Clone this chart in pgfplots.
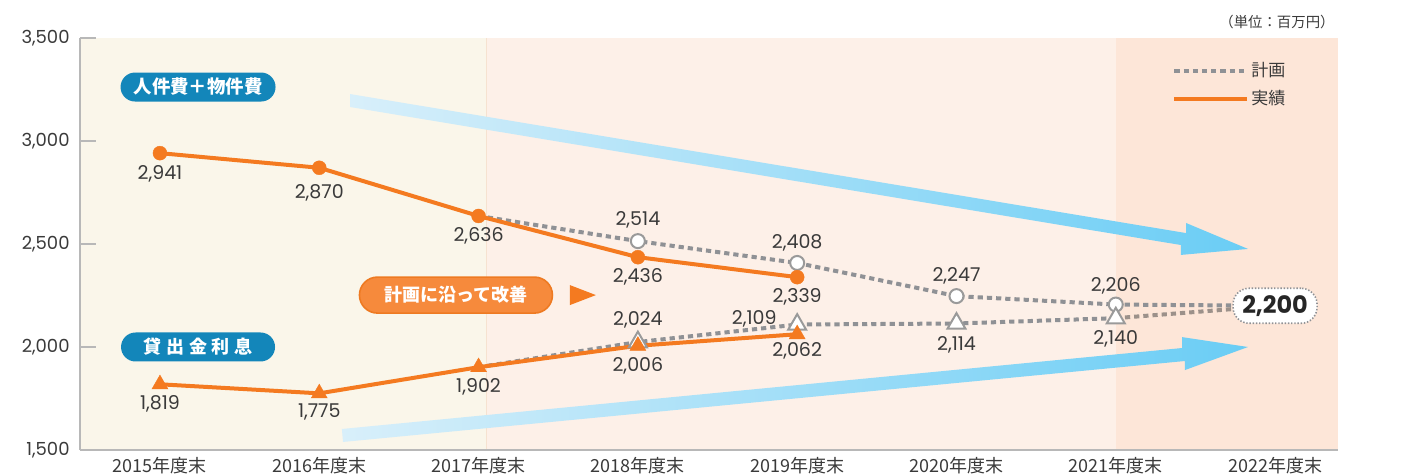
\documentclass[border=0pt]{standalone}
\usepackage{pgfplots}
\pgfplotsset{compat=1.18}
\usepackage{pgfplotstable}
\usepackage{fontspec}
\setmainfont{Poppins}
\newfontfamily\cjk{Noto Sans CJK JP}
\definecolor{org}{HTML}{F47A20}
\definecolor{plangray}{HTML}{8F9195}
\definecolor{brgray}{HTML}{9C918A}
\definecolor{mkgray}{HTML}{9A9A9A}
\definecolor{axisgray}{HTML}{B8B8B8}
\definecolor{txt}{HTML}{3A3A3A}
\definecolor{bgA}{HTML}{FAF6EA}
\definecolor{bgB}{HTML}{FDF0E8}
\definecolor{bgC}{HTML}{FDE6D8}
\definecolor{bgline}{HTML}{F6E2D0}
\definecolor{pillblue}{HTML}{1386BA}
\definecolor{pillorg}{HTML}{F68A3C}
\definecolor{pillorgd}{HTML}{EE7A22}
\definecolor{arrL}{HTML}{D8EFFA}
\definecolor{arrR}{HTML}{6ACDF5}

\pgfplotstableread{
x y dx dy
0 2941 0 -10.5
1 2870 0 -12.5
2 2636 0 -10
3 2436 0 -10
4 2339 0 -10
}\actcost
\pgfplotstableread{
x y dx dy
3 2514 0 10.5
4 2408 0 10
5 2247 0 10
6 2206 0 9.5
}\plancost
\pgfplotstableread{
x y dx dy
0 1819 0 -10
1 1775 0 -9.5
2 1902 0 -10
3 2006 0 -10
4 2062 0 -8.5
}\actint
\pgfplotstableread{
x y dx dy
3 2024 0 11
4 2109 -21.5 3
5 2114 0 -10.5
6 2140 0 -10.5
}\planint

\pgfplotsset{
  planline/.style={draw=plangray, line width=2pt, dash pattern=on 2.6pt off 2pt},
  lbl/.style={nodes near coords, point meta=\thisrow{y},
    visualization depends on={\thisrow{dx}\as\mydx},
    visualization depends on={\thisrow{dy}\as\mydy},
    every node near coord/.append style={anchor=center, xshift=\mydx pt, yshift=\mydy pt,
      font=\fontsize{9.5}{10}\selectfont, text=txt, inner sep=0pt}},
}

\begin{document}
\begin{tikzpicture}
\path[use as bounding box] (-40pt,-13pt) rectangle (667.5pt,225pt);
\begin{axis}[
  at={(0pt,0pt)}, anchor=south west,
  scale only axis, width=629pt, height=206pt,
  xmin=-0.502, xmax=7.395, ymin=1500, ymax=3500,
  axis on top, clip=false,
  axis lines=left, axis line style={-, draw=axisgray, line width=1pt},
  xtick={0,...,7},
  xticklabels={2015年度末,2016年度末,2017年度末,2018年度末,2019年度末,2020年度末,2021年度末,2022年度末},
  x tick label style={font=\cjk\fontsize{9}{10}\selectfont, text=txt, anchor=center, yshift=-8pt, inner sep=0pt},
  major x tick style={draw=none},
  ytick={1500,2000,...,3500},
  scaled y ticks=false,
  y tick label style={font=\fontsize{9}{10}\selectfont, text=txt, anchor=east, inner sep=0pt, xshift=-5pt},
  major y tick style={draw=axisgray, line width=1pt},
  tick align=inside, major tick length=8pt,
  /pgf/number format/1000 sep={,},
  /pgf/number format/assume math mode=true,
  legend style={at={(0.868,0.946)}, anchor=north west, draw=none, fill=none,
    font=\cjk\fontsize{8.5}{10}\selectfont, text=txt, row sep=3pt, inner sep=0pt,
    nodes={inner sep=1pt}},
  legend cell align=left,
  legend image code/.code={\draw[#1] (0pt,0pt) -- (36.5pt,0pt);},
]
% backgrounds
\fill[bgA] (axis cs:-0.502,1500) rectangle (axis cs:2.05,3500);
\fill[bgB] (axis cs:2.05,1500) rectangle (axis cs:6.0,3500);
\fill[bgC] (axis cs:6.0,1500) rectangle (axis cs:7.395,3500);
\draw[line width=0.6pt, bgline] (axis cs:2.05,1500) -- (axis cs:2.05,3500);
% arrows
\shade[left color=arrL, right color=arrR] (axis cs:1.193,3228) -- (axis cs:6.441,2553) -- (axis cs:6.441,2602) -- (axis cs:6.830,2476) -- (axis cs:6.409,2447) -- (axis cs:6.409,2495) -- (axis cs:1.193,3165) -- cycle;
\shade[left color=arrL, right color=arrR] (axis cs:1.142,1602) -- (axis cs:6.416,1995) -- (axis cs:6.416,2048) -- (axis cs:6.830,2000) -- (axis cs:6.434,1888) -- (axis cs:6.434,1932) -- (axis cs:1.149,1539) -- cycle;

% plan lines
\addplot[planline, forget plot] coordinates {(2,2636) (3,2514) (4,2408) (5,2247) (6,2206) (7,2200)};
\addplot[planline, forget plot] coordinates {(2,1902) (3,2024) (4,2109) (5,2114) (6,2140)};
\addplot[planline, draw=brgray, forget plot] coordinates {(6,2140) (7,2200)};
% plan markers
\addplot[only marks, mark=*, mark size=3.5pt, mark options={draw=mkgray, fill=white, line width=1pt}, lbl, forget plot] table[x=x,y=y] {\plancost};
\addplot[only marks, mark=triangle*, mark size=5.2pt, mark options={draw=mkgray, fill=white, line width=1pt}, lbl, forget plot] table[x=x,y=y] {\planint};
% actual
\addplot[draw=org, line width=2pt, mark=*, mark size=3.5pt, mark options={fill=org, draw=org, line width=0.2pt}, lbl, forget plot] table[x=x,y=y] {\actcost};
\addplot[draw=org, line width=2pt, mark=triangle*, mark size=4.6pt, mark options={fill=org, draw=org, line width=0.2pt}, lbl, forget plot] table[x=x,y=y] {\actint};

\addlegendimage{planline}
\addlegendentry{計画}
\addlegendimage{draw=org, line width=2pt}
\addlegendentry{実績}

% tags
\node[fill=pillblue, rounded corners=7.25pt, minimum width=77.5pt, minimum height=14.5pt, inner sep=0pt, text=white, font=\cjk\bfseries\fontsize{9.2}{10}\selectfont] at (axis cs:0.239,3262) {人件費＋物件費};
\node[fill=pillblue, rounded corners=7.25pt, minimum width=77pt, minimum height=14.5pt, inner sep=0pt, text=white, font=\cjk\bfseries\fontsize{9}{10}\selectfont] at (axis cs:0.239,2000) {貸\hspace{2.4pt}出\hspace{2.4pt}金\hspace{2.4pt}利\hspace{2.4pt}息};
\node[fill=pillorg, draw=pillorgd, line width=0.8pt, rounded corners=9pt, minimum width=96.5pt, minimum height=18pt, inner sep=0pt, text=white, font=\cjk\bfseries\fontsize{9}{10}\selectfont] at (axis cs:1.858,2252) {計画に沿って改善};
\fill[org] (axis cs:2.655,2252) ++(-6.5pt,5pt) -- ++(13pt,-5pt) -- ++(-13pt,-5pt) -- cycle;
% 2,200 box
\node[draw=plangray, dash pattern=on 0.7pt off 0.9pt, line width=0.8pt, fill=white, rounded corners=8pt, minimum width=42pt, minimum height=17.5pt, inner sep=0pt, font=\bfseries\fontsize{12}{12}\selectfont, text=black!85] at (axis cs:7,2200) {2,200};
% unit
\node[anchor=east, inner sep=0pt, font=\cjk\fontsize{7.2}{8}\selectfont, text=txt] at (axis cs:7.376,3577) {（単位：百万円）};
\end{axis}
\end{tikzpicture}
\end{document}
